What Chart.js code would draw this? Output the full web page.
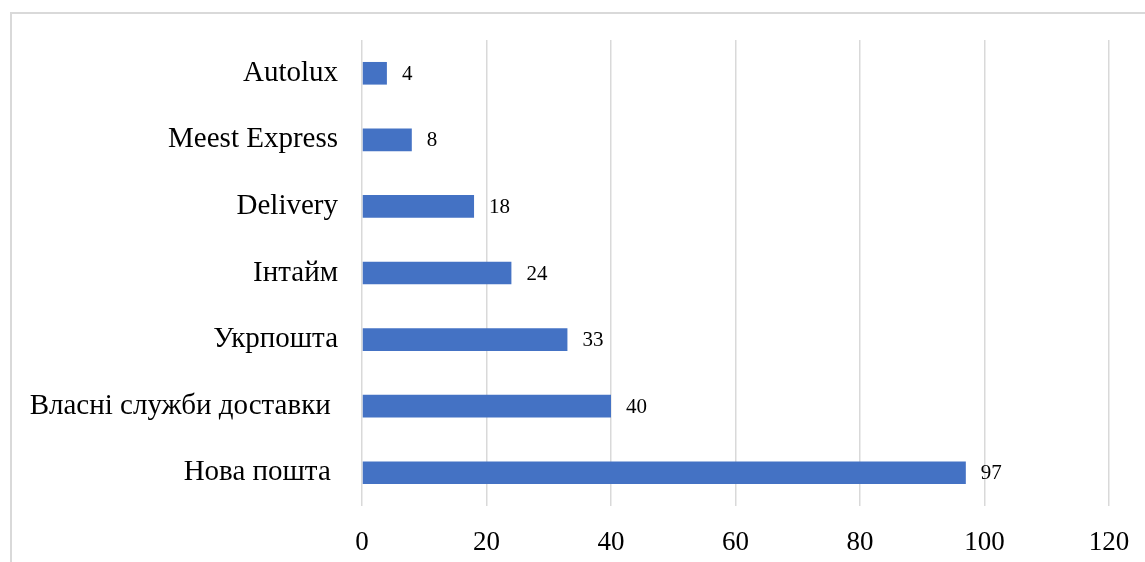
<!DOCTYPE html>
<html>
<head>
<meta charset="utf-8">
<script src="https://cdn.jsdelivr.net/npm/chart.js@4"></script>
<style>
  html, body { margin: 0; padding: 0; background: #fff; overflow: hidden; }
  #frame { position: absolute; left: 10px; top: 12px; width: 1200px; height: 600px;
           border-left: 2px solid #d9d9d9; border-top: 2px solid #d9d9d9; }
  #wrap { position: absolute; left: 0; top: 0; width: 1145px; height: 562px; }
</style>
</head>
<body>
<div id="frame"></div>
<div id="wrap"><canvas id="myChart"></canvas></div>
<script>
"use strict";

//data
const categories = ['Autolux', 'Meest Express', 'Delivery', 'Інтайм', 'Укрпошта', 'Власні служби доставки ', 'Нова пошта '];
const values = [4, 8, 18, 24, 33, 40, 97];
const xTicks = [0, 20, 40, 60, 80, 100, 120];

const serif = "'Liberation Serif', 'Times New Roman', serif";

//value labels to the right of each bar
const valueLabels = {
    id: 'valueLabels',
    afterDatasetsDraw(chart) {
        const ctx = chart.ctx;
        const meta = chart.getDatasetMeta(0);
        ctx.save();
        ctx.font = '21px ' + serif;
        ctx.fillStyle = '#000';
        ctx.textAlign = 'left';
        ctx.textBaseline = 'middle';
        meta.data.forEach((bar, i) => {
            ctx.fillText(String(values[i]), bar.x + 15, bar.y + 1);
        });
        ctx.restore();
    }
};

const data = {
    labels: categories,
    datasets: [{
        data: values,
        backgroundColor: '#4472C4',
        borderWidth: 0,
        barPercentage: 0.34,
        categoryPercentage: 1
    }]
};

const config = {
    type: 'bar',
    data,
    options: {
        indexAxis: 'y',
        responsive: true,
        maintainAspectRatio: false,
        animation: false,
        layout: {
            padding: { top: 40, right: 36, bottom: 0, left: 0 }
        },
        scales: {
            x: {
                min: xTicks[0],
                max: xTicks[xTicks.length - 1],
                afterBuildTicks: function(scale) {
                    scale.ticks = xTicks.map(v => ({ value: v }));
                },
                afterFit: function(scale) {
                    scale.height = 56;
                    scale.paddingLeft = 0;
                    scale.paddingRight = 0;
                },
                grid: { color: '#d9d9d9', lineWidth: 1.5, drawTicks: false },
                border: { display: false },
                ticks: {
                    color: '#000',
                    padding: 21,
                    font: { family: serif, size: 27 }
                }
            },
            y: {
                afterFit: function(scale) { scale.width = 362; },
                grid: { display: false },
                border: { display: false },
                ticks: {
                    color: '#000',
                    padding: 16,
                    font: { family: serif, size: 29 }
                }
            }
        },
        plugins: {
            legend: { display: false },
            tooltip: { enabled: false }
        }
    },
    plugins: [valueLabels]
};

const myChart = new Chart(document.getElementById('myChart'), config);
</script>
</body>
</html>
